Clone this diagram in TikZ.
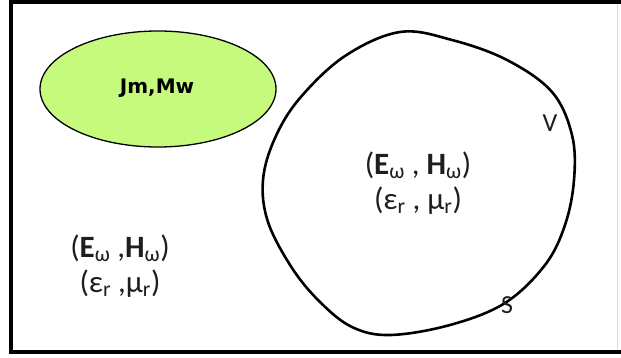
\documentclass[tikz,border=0pt]{standalone}
\usepackage{fontspec}
\setmainfont{Carlito}
\newfontfamily\srcfont{DejaVu Sans}
\usepackage{xcolor}
\usepackage{tikz}
\usetikzlibrary{shapes.geometric}
\definecolor{srcgreen}{RGB}{198,250,125}
\definecolor{txtgray}{RGB}{30,30,30}
\newcommand{\fsub}[1]{\textsubscript{#1}}

\begin{document}
\begin{tikzpicture}[x=1pt,y=-1pt,
  fieldtxt/.style={align=center,text=txtgray,font=\fontsize{31}{35}\selectfont,inner sep=0pt},
  surftxt/.style={text=txtgray,font=\fontsize{26}{28}\selectfont,inner sep=0pt}]
  \useasboundingbox (0,0) rectangle (621,358);
  \fill[white] (0,0) rectangle (621,358);
  \draw[gray!30,line width=1pt] (617,2) -- (617,352);
  \draw[line width=4pt] (621,2) -- (11,2) -- (11,352) -- (621,352);
  % source region
  \node[ellipse,draw,line width=1.3pt,fill=srcgreen,minimum width=236,minimum height=116,inner sep=0pt] (src) at (158,89) {};
  \node[font=\srcfont\bfseries\fontsize{20}{22}\selectfont] (srclbl) at (157,88) {Jm,Mw};
  % volume V bounded by S
  \draw[line width=2.6pt,tension=0.6] plot[smooth cycle] coordinates {
    (400,32) (452,40) (507,60) (552,92) (572,135) (574,180) (565,225)
    (545,265) (505,303) (450,325) (390,335) (352,327) (320,302) (292,268)
    (268,222) (263,180) (275,138) (300,98) (345,56)};
  \node[surftxt] (vlbl) at (550,123) {V};
  \node[surftxt] (slbl) at (507,305) {S};
  \node[fieldtxt] (inner) at (418,183) {(\textbf{E}\fsub{ω} , \textbf{H}\fsub{ω})\\(ε\fsub{r} , μ\fsub{r})};
  \node[fieldtxt] (outer) at (120,266) {(\textbf{E}\fsub{ω} ,\textbf{H}\fsub{ω})\\(ε\fsub{r} ,μ\fsub{r})};
\end{tikzpicture}
\end{document}
